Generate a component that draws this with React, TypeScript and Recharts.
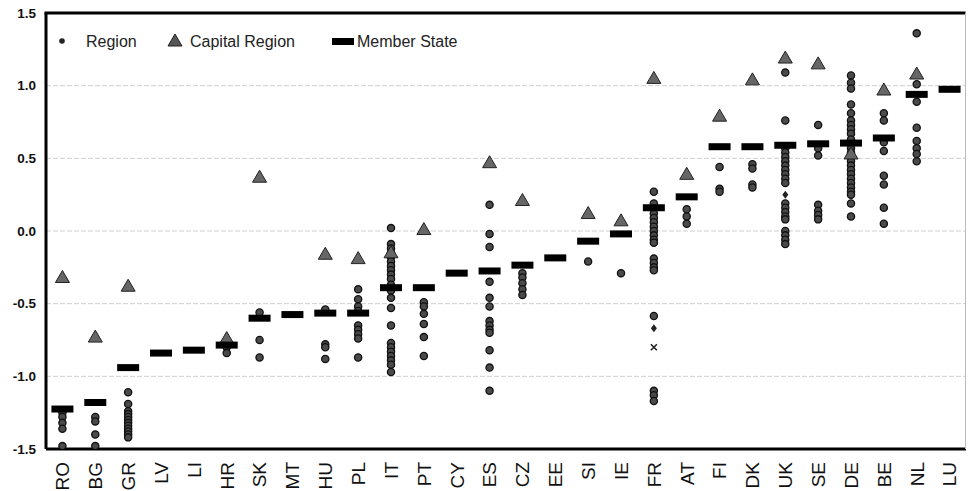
import { ScatterChart, Scatter, XAxis, YAxis, CartesianGrid } from "recharts";

const countries = ["RO", "BG", "GR", "LV", "LI", "HR", "SK", "MT", "HU", "PL", "IT", "PT", "CY", "ES", "CZ", "EE", "SI", "IE", "FR", "AT", "FI", "DK", "UK", "SE", "DE", "BE", "NL", "LU"];

const memberState = [-1.225, -1.18, -0.94, -0.84, -0.82, -0.785, -0.6, -0.575, -0.565, -0.565, -0.39, -0.39, -0.29, -0.275, -0.235, -0.185, -0.07, -0.02, 0.16, 0.235, 0.58, 0.58, 0.59, 0.6, 0.605, 0.64, 0.94, 0.975];

const capitalRegion: (number | null)[] = [-0.32, -0.73, -0.38, null, null, -0.74, 0.37, null, -0.16, -0.19, -0.15, 0.01, null, 0.47, 0.21, null, 0.12, 0.07, 1.05, 0.39, 0.79, 1.04, 1.19, 1.15, 0.53, 0.97, 1.08, null];

const regions: number[][] = [
  [-1.25, -1.28, -1.32, -1.36, -1.48],
  [-1.28, -1.31, -1.4, -1.48],
  [-1.11, -1.19, -1.24, -1.26, -1.28, -1.3, -1.32, -1.34, -1.36, -1.38, -1.4, -1.42],
  [],
  [],
  [-0.8, -0.84],
  [-0.56, -0.75, -0.87],
  [],
  [-0.54, -0.78, -0.8, -0.88],
  [-0.4, -0.47, -0.52, -0.55, -0.65, -0.68, -0.71, -0.74, -0.87],
  [0.02, -0.09, -0.12, -0.15, -0.18, -0.21, -0.24, -0.27, -0.3, -0.33, -0.37, -0.41, -0.46, -0.53, -0.65, -0.77, -0.8, -0.83, -0.86, -0.89, -0.92, -0.97],
  [-0.49, -0.52, -0.57, -0.64, -0.73, -0.86],
  [],
  [0.18, -0.02, -0.11, -0.35, -0.46, -0.52, -0.62, -0.65, -0.68, -0.7, -0.82, -0.94, -1.1],
  [-0.29, -0.32, -0.36, -0.4, -0.44],
  [],
  [-0.21],
  [-0.29],
  [0.27, 0.19, 0.12, 0.09, 0.06, 0.03, 0.0, -0.03, -0.06, -0.08, -0.19, -0.22, -0.25, -0.27, -0.585, -1.1, -1.13, -1.17],
  [0.15, 0.1, 0.05],
  [0.44, 0.29, 0.27],
  [0.46, 0.43, 0.32, 0.3],
  [1.09, 0.76, 0.57, 0.54, 0.51, 0.48, 0.45, 0.42, 0.39, 0.36, 0.33, 0.19, 0.16, 0.13, 0.1, 0.08, 0.0, -0.03, -0.06, -0.09],
  [0.73, 0.57, 0.52, 0.18, 0.14, 0.11, 0.08],
  [1.07, 1.02, 0.98, 0.87, 0.81, 0.76, 0.73, 0.7, 0.67, 0.63, 0.57, 0.54, 0.51, 0.48, 0.45, 0.42, 0.39, 0.36, 0.33, 0.3, 0.27, 0.25, 0.19, 0.1],
  [0.81, 0.76, 0.61, 0.55, 0.38, 0.32, 0.16, 0.05],
  [1.36, 1.01, 0.89, 0.71, 0.62, 0.57, 0.53, 0.48],
  [],
];

// odd markers (overseas regions etc.)
const specialDiamond = [{ code: "FR", y: -0.67 }, { code: "UK", y: 0.25 }];
const specialCross = [{ code: "FR", y: -0.8 }];

const yTicks = [-1.5, -1.0, -0.5, 0.0, 0.5, 1.0, 1.5];

const regionData = regions.flatMap((vals, i) => vals.map((y) => ({ x: i, y })));
const capitalData = capitalRegion.flatMap((y, i) => (y === null ? [] : [{ x: i, y }]));
const memberData = memberState.map((y, i) => ({ x: i, y }));
const diamondData = specialDiamond.map((d) => ({ x: countries.indexOf(d.code), y: d.y }));
const crossData = specialCross.map((d) => ({ x: countries.indexOf(d.code), y: d.y }));

const font = "Liberation Sans, Arial, sans-serif";

const Dot = (p: any) => <circle cx={p.cx} cy={p.cy} r={3.6} fill="#4a4a4a" stroke="#111" strokeWidth={1.3} />;
const Tri = (p: any) => (
  <path d={`M${p.cx},${p.cy - 7} L${p.cx + 7},${p.cy + 5} L${p.cx - 7},${p.cy + 5} Z`} fill="#666" stroke="#222" strokeWidth={1} />
);
const Dash = (p: any) => <rect x={p.cx - 11} y={p.cy - 3.5} width={22} height={7} fill="#000" />;
const Diamond = (p: any) => <path d={`M${p.cx},${p.cy - 4} L${p.cx + 3},${p.cy} L${p.cx},${p.cy + 4} L${p.cx - 3},${p.cy} Z`} fill="#222" />;
const Cross = (p: any) => (
  <g stroke="#222" strokeWidth={1.6}>
    <line x1={p.cx - 3} y1={p.cy - 3} x2={p.cx + 3} y2={p.cy + 3} />
    <line x1={p.cx + 3} y1={p.cy - 3} x2={p.cx - 3} y2={p.cy + 3} />
  </g>
);

const XTick = ({ x, y, payload }: any) => (
  <text x={x} y={y + 5} transform={`rotate(-90, ${x}, ${y + 5})`} textAnchor="end" dy="0.36em" fontSize={19} fill="#111" fontFamily={font}>
    {countries[payload.value]}
  </text>
);

// legend plus the top and right edges of the plot frame
const Overlay = () => (
  <svg width={968} height={491} style={{ position: "absolute", left: 0, top: 0, fontFamily: font }}>
    <rect x={44.5} y={11.5} width={921} height={3} fill="#000" />
    <rect x={965} y={13} width={1} height={436} fill="#bbb" />
    <g transform="translate(56,30)">
      <circle cx={6} cy={11} r={2.8} fill="#222" />
      <text x={30} y={17} fontSize={16} fill="#222">Region</text>
      <path d="M119,4 L126,16 L112,16 Z" fill="#555" stroke="#222" />
      <text x={134} y={17} fontSize={16} fill="#222">Capital Region</text>
      <rect x={276} y={8} width={22} height={7} fill="#000" />
      <text x={301} y={17} fontSize={16} fill="#222">Member State</text>
    </g>
  </svg>
);

export default function App() {
  return (
    <div style={{ position: "absolute", left: 0, top: 0, width: 968, height: 491, background: "#fff" }}>
      <ScatterChart width={968} height={491} margin={{ top: 13, right: 2, bottom: 0, left: 0 }}>
        <CartesianGrid vertical={false} stroke="#cfcfcf" strokeDasharray="5 2" />
        <XAxis
          type="number"
          dataKey="x"
          domain={[-0.5, 27.5]}
          ticks={countries.map((_, i) => i)}
          interval={0}
          height={42}
          tick={<XTick />}
          tickLine={false}
          axisLine={{ stroke: "#000", strokeWidth: 3 }}
        />
        <YAxis
          type="number"
          dataKey="y"
          domain={[-1.5, 1.5]}
          ticks={yTicks}
          allowDataOverflow
          width={46}
          tickFormatter={(v: number) => v.toFixed(1)}
          tick={{ fontSize: 13.5, fill: "#111", fontWeight: 700, fontFamily: font, dx: -2 }}
          tickLine={false}
          axisLine={{ stroke: "#000", strokeWidth: 3 }}
        />
        <Scatter name="Region" data={regionData} shape={Dot} isAnimationActive={false} />
        <Scatter name="Region special" data={diamondData} shape={Diamond} isAnimationActive={false} legendType="none" />
        <Scatter name="Region special 2" data={crossData} shape={Cross} isAnimationActive={false} legendType="none" />
        <Scatter name="Capital Region" data={capitalData} shape={Tri} isAnimationActive={false} />
        <Scatter name="Member State" data={memberData} shape={Dash} isAnimationActive={false} />
      </ScatterChart>
      <Overlay />
    </div>
  );
}
